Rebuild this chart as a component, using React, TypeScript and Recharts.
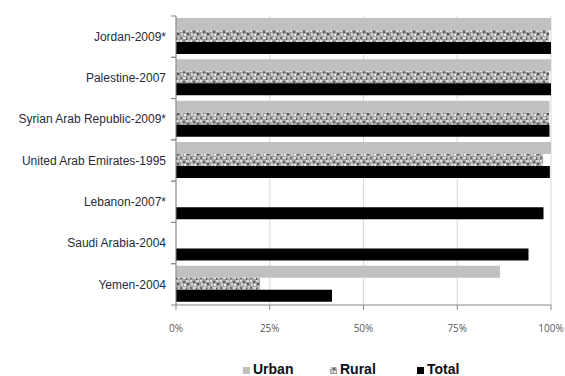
import { BarChart, Bar, XAxis, YAxis, CartesianGrid, Legend } from 'recharts'

const countries = [
  'Jordan-2009*',
  'Palestine-2007',
  'Syrian Arab Republic-2009*',
  'United Arab Emirates-1995',
  'Lebanon-2007*',
  'Saudi Arabia-2004',
  'Yemen-2004',
]
const urban = [100, 100, 99.6, 100, null, null, 86.4]
const rural = [99.5, 99.5, 99.5, 97.9, null, null, 22.4]
const total = [100, 100, 99.6, 99.7, 98, 94, 41.6]
const xTicks = [0, 25, 50, 75, 100]

const data = countries.map((name, i) => ({
  name,
  urban: urban[i],
  rural: rural[i],
  total: total[i],
}))

const RURAL_FILL = 'url(#ruralNoise)'

// speckled grey texture like the old Excel fill
const NoiseDefs = () => (
  <defs>
    <pattern id="ruralNoise" width="10" height="10" patternUnits="userSpaceOnUse">
      <rect width="10" height="10" fill="#a0a0a0" />
      <rect x="0" y="0" width="2" height="2" fill="#e0e0e0" />
      <rect x="3" y="1" width="2" height="2" fill="#606060" />
      <rect x="6" y="0" width="3" height="2" fill="#d4d4d4" />
      <rect x="1" y="3" width="2" height="3" fill="#cfcfcf" />
      <rect x="4" y="4" width="2" height="2" fill="#ececec" />
      <rect x="7" y="3" width="2" height="2" fill="#555555" />
      <rect x="0" y="7" width="2" height="2" fill="#707070" />
      <rect x="3" y="7" width="3" height="2" fill="#dadada" />
      <rect x="8" y="6" width="2" height="3" fill="#c4c4c4" />
      <rect x="6" y="8" width="1" height="2" fill="#505050" />
    </pattern>
  </defs>
)

// eslint-disable-next-line @typescript-eslint/no-explicit-any
const CountryTick = ({ x, y, payload }: any) => {
  const half = payload?.offset ?? 20.6
  const axisX = 176
  return (
    <g>
      <line x1={axisX - 5} x2={axisX} y1={y - half} y2={y - half} stroke="#868686" />
      <line x1={axisX - 5} x2={axisX} y1={y + half} y2={y + half} stroke="#868686" />
      <text x={x - 2} y={y} dy="0.35em" textAnchor="end" fill="#2a2a3a" fontSize={12}
        fontFamily="'Liberation Sans', Arial, sans-serif">
        {payload.value}
      </text>
    </g>
  )
}

const LegendBox = () => {
  const items = [
    { label: 'Urban', fill: '#c0c0c0' },
    { label: 'Rural', fill: RURAL_FILL },
    { label: 'Total', fill: '#000000' },
  ]
  return (
    <svg width={565} height={29} style={{ display: 'block', overflow: 'visible' }}>
      {items.map((it, i) => {
        const x = 243 + i * 87
        return (
          <g key={it.label}>
            <rect x={x} y={20} width={7} height={7} fill={it.fill} />
            <text x={x + 10} y={27} fontSize={14} fontWeight="bold" fill="#0d0d1a"
              fontFamily="'Liberation Sans', Arial, sans-serif">
              {it.label}
            </text>
          </g>
        )
      })}
    </svg>
  )
}

export default function App() {
  return (
    <div style={{ position: 'absolute', left: 0, top: 0, width: 565, height: 376, overflow: 'hidden', background: '#fff' }}>
      <BarChart
        width={565}
        height={376}
        data={data}
        layout="vertical"
        margin={{ top: 16, right: 14, bottom: 0, left: 0 }}
        barCategoryGap="5%"
        barGap={0}
      >
        <NoiseDefs />
        <CartesianGrid horizontal={false} stroke="#d9d9d9" />
        <XAxis
          type="number"
          domain={[0, 100]}
          ticks={xTicks}
          tickFormatter={(v) => `${v}%`}
          height={42}
          tickSize={5}
          tickMargin={15}
          stroke="#868686"
          tick={{ fill: '#595959', fontSize: 10, fontFamily: "'Open Sans', sans-serif" }}
        />
        <YAxis
          type="category"
          dataKey="name"
          width={176}
          stroke="#868686"
          tickLine={false}
          tick={<CountryTick />}
        />
        <Legend verticalAlign="bottom" height={29} content={() => <LegendBox />} />
        <Bar dataKey="urban" fill="#c0c0c0" isAnimationActive={false} />
        <Bar dataKey="rural" fill={RURAL_FILL} isAnimationActive={false} />
        <Bar dataKey="total" fill="#000000" isAnimationActive={false} />
      </BarChart>
    </div>
  )
}
